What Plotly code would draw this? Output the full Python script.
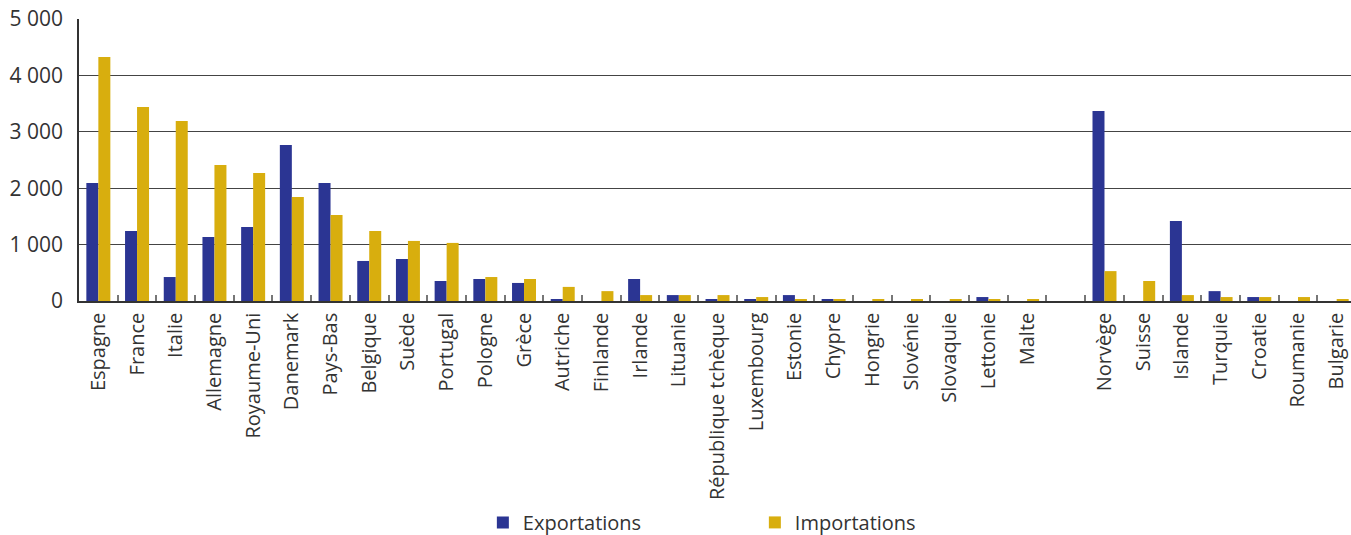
import plotly.graph_objects as go

# Countries (a blank slot separates EU members from the other countries)
categories = [
    "Espagne", "France", "Italie", "Allemagne", "Royaume-Uni", "Danemark",
    "Pays-Bas", "Belgique", "Suède", "Portugal", "Pologne", "Grèce",
    "Autriche", "Finlande", "Irlande", "Lituanie", "République tchèque",
    "Luxembourg", "Estonie", "Chypre", "Hongrie", "Slovénie", "Slovaquie",
    "Lettonie", "Malte", " ",
    "Norvège", "Suisse", "Islande", "Turquie", "Croatie", "Roumanie", "Bulgarie",
]

exportations = [
    2090, 1240, 425, 1135, 1310, 2765,
    2090, 710, 745, 355, 390, 320,
    35, 0, 390, 105, 35,
    35, 105, 35, 0, 0, 0,
    70, 0, None,
    3370, 0, 1420, 175, 70, 0, 0,
]

importations = [
    4325, 3440, 3190, 2410, 2270, 1845,
    1525, 1240, 1065, 1030, 425, 390,
    250, 175, 105, 105, 105,
    70, 35, 35, 35, 35, 35,
    35, 35, None,
    530, 355, 105, 70, 70, 70, 35,
]

y_ticks = [0, 1000, 2000, 3000, 4000, 5000]

BLUE = "#2B3593"
GOLD = "#D8AE0E"
TEXT = "#333333"
FONT = "Open Sans"

fig = go.Figure()
fig.add_trace(go.Bar(x=categories, y=exportations, name="Exportations",
                     marker=dict(color=BLUE, line=dict(width=0))))
fig.add_trace(go.Bar(x=categories, y=importations, name="Importations",
                     marker=dict(color=GOLD, line=dict(width=0))))

fig.update_layout(
    width=1351, height=535,
    margin=dict(l=79, r=0, t=19, b=234, autoexpand=False),
    paper_bgcolor="white", plot_bgcolor="white",
    barmode="group", bargap=0.38, bargroupgap=0,
    separators=", ",
    font=dict(family=FONT, size=20, color=TEXT),
    showlegend=True,
    legend=dict(
        orientation="h", x=0.3175, xanchor="left", y=-0.716, yanchor="top",
        font=dict(family=FONT, size=20, color=TEXT),
        entrywidth=227, entrywidthmode="pixels",
        bgcolor="rgba(0,0,0,0)",
    ),
)

fig.update_xaxes(
    type="category",
    range=[-0.5, 32.37],
    automargin=False,
    tickson="boundaries",
    ticks="inside", ticklen=6, tickwidth=1.5, tickcolor="#777777",
    tickangle=-90,
    tickfont=dict(family=FONT, size=20, color=TEXT),
    ticklabelstandoff=2,
    showline=True, linecolor="#333333", linewidth=1.5,
    showgrid=False, zeroline=False,
)

fig.update_yaxes(
    range=[0, 5000],
    automargin=False,
    tickvals=y_ticks,
    tickformat=",d",
    ticks="",
    tickfont=dict(family=FONT, size=21, color=TEXT),
    ticklabelstandoff=10,
    showline=True, linecolor="#333333", linewidth=1.5,
    showgrid=True, gridcolor="#444444", gridwidth=1.2,
    zeroline=False,
)

fig.write_html("out.html")
